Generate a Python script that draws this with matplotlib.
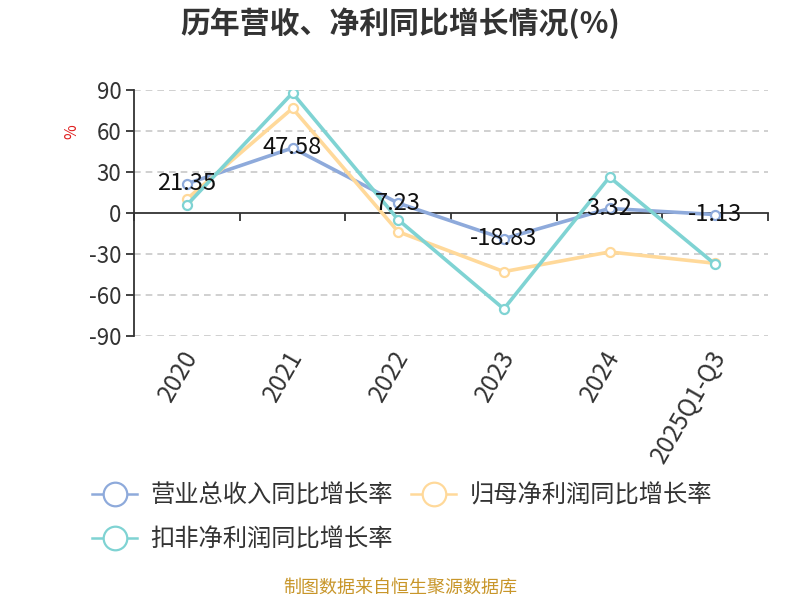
import numpy as np
import matplotlib
matplotlib.use('Agg')
import matplotlib.pyplot as plt
from matplotlib.lines import Line2D

plt.rcParams['font.family'] = ['Noto Sans CJK SC', 'DejaVu Sans']
plt.rcParams['axes.unicode_minus'] = False

years = ['2020', '2021', '2022', '2023', '2024', '2025Q1-Q3']
revenue = [21.35, 47.58, 7.23, -18.83, 3.32, -1.13]
net_profit = [10.2, 76.6, -13.7, -42.9, -28.5, -36.8]
deducted_profit = [5.8, 87.8, -4.9, -70.2, 26.3, -37.5]
yticks = [90, 60, 30, 0, -30, -60, -90]

names = ['营业总收入同比增长率', '归母净利润同比增长率', '扣非净利润同比增长率']
colors = ['#8eaadb', '#ffd99a', '#7fd3d3']

fig = plt.figure(figsize=(8, 6), dpi=100)
ax = fig.add_axes([0.1675, 0.44, 0.7925, 0.41])

x = np.arange(len(years))
series = [revenue, net_profit, deducted_profit]
for vals, c in zip(series, colors):
    ax.plot(x, vals, color=c, lw=2.6, marker='o', ms=6.5, mfc='white',
            mec=c, mew=1.6, zorder=3)

for xi, v in zip(x, revenue):
    ax.text(xi, v, '%.2f' % v, ha='center', va='center', fontsize=17,
            color='#111111', zorder=4)

ax.set_xlim(-0.5, len(years) - 0.5)
ax.set_ylim(-90, 90)
ax.set_yticks(yticks)
ax.set_yticklabels([str(t) for t in yticks])
for t in yticks:
    if t != 0:
        ax.axhline(t, color='#c8c8c8', lw=1.2, ls=(0, (4, 3)), zorder=1)

for s in ['top', 'right']:
    ax.spines[s].set_visible(False)
ax.spines['left'].set_color('#333333')
ax.spines['left'].set_linewidth(1.3)
ax.spines['bottom'].set_position(('data', 0))
ax.spines['bottom'].set_color('#333333')
ax.spines['bottom'].set_linewidth(1.3)

ax.set_xticks(np.arange(len(years) + 1) - 0.5)
ax.set_xticklabels([])
ax.tick_params(axis='x', direction='out', length=6, color='#333333', width=1.3)
ax.tick_params(axis='y', direction='out', length=6, color='#333333', width=1.3,
               labelsize=16, labelcolor='#333333', pad=3)

for xi, lab in zip(x, years):
    ax.text(xi - 0.06, -97, lab, rotation=60, ha='right', va='top',
            rotation_mode='anchor', fontsize=17.5, color='#333333')

fig.text(0.09, 0.78, '%', rotation=90, color='#e02020', fontsize=11.5,
         ha='center', va='center')

fig.text(0.5, 0.962, '历年营收、净利同比增长情况(%)', ha='center', va='center',
         fontsize=21.5, fontweight='bold', color='#333333')

handles = [Line2D([0], [0], color=c, lw=1.8, marker='o', ms=17, mfc='white',
                  mec=c, mew=1.6) for c in colors]
order = [0, 2, 1]
leg = fig.legend([handles[i] for i in order], [names[i] for i in order],
                 loc='upper left', bbox_to_anchor=(0.088, 0.232), ncol=2,
                 frameon=False, fontsize=17.5, handlelength=1.85,
                 columnspacing=0.75, handletextpad=0.55, labelspacing=0.75)
for t in leg.get_texts():
    t.set_color('#333333')

fig.text(0.5, 0.006, '制图数据来自恒生聚源数据库', ha='center', va='bottom',
         fontsize=13, color='#c8962a')

fig.savefig('out.png', dpi=100)
